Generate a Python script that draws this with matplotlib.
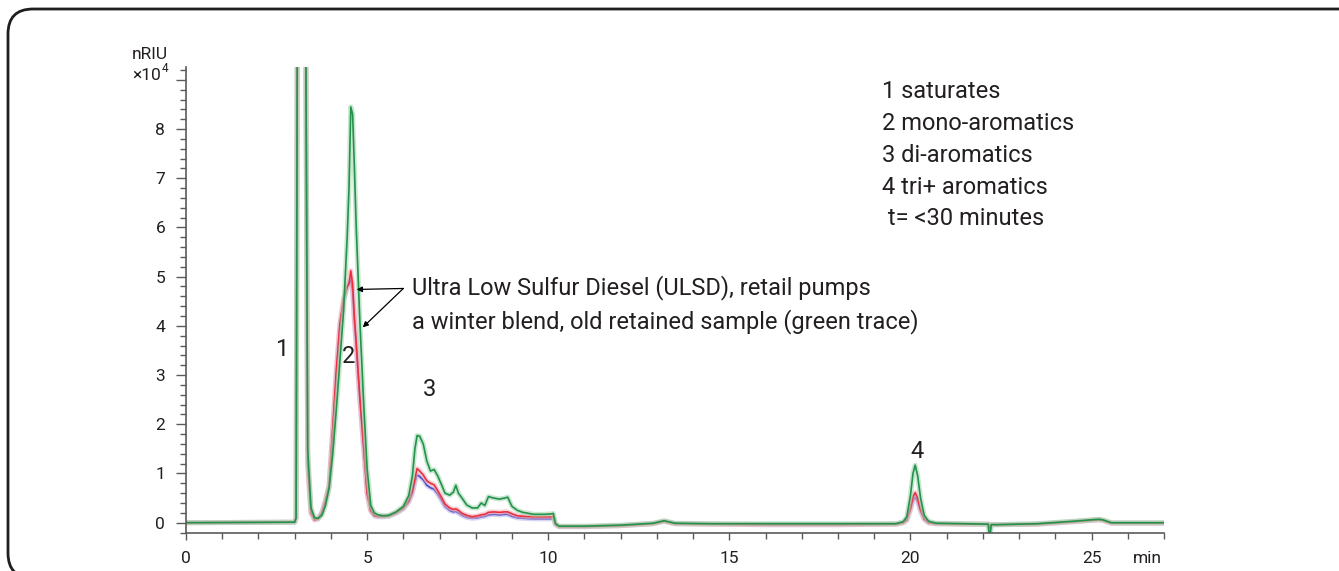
import matplotlib
matplotlib.use("Agg")
import matplotlib.pyplot as plt
from matplotlib.patches import FancyBboxPatch
from matplotlib.ticker import MultipleLocator

plt.rcParams['font.family'] = ['Roboto', 'DejaVu Sans']

# retention time (min) shared by the three runs
rt = [0.0, 3.0, 3.04, 3.08, 3.19, 3.31, 3.36, 3.45, 3.55, 3.65, 3.75, 3.85,
      3.95, 4.05, 4.15, 4.25, 4.35, 4.45, 4.5, 4.55, 4.6, 4.65, 4.7, 4.8,
      4.9, 5.0, 5.1, 5.2, 5.3, 5.45, 5.6, 5.8, 6.0, 6.15, 6.25, 6.32, 6.38,
      6.45, 6.55, 6.65, 6.75, 6.85, 6.95, 7.05, 7.15, 7.28, 7.38, 7.45, 7.52,
      7.62, 7.75, 7.9, 8.05, 8.15, 8.25, 8.35, 8.5, 8.65, 8.8, 8.88, 9.0,
      9.15, 9.3, 9.6, 9.9, 10.1, 10.14, 10.2, 10.3, 11.0, 12.0, 12.9, 13.2,
      13.5, 14.5, 16.0, 18.0, 19.6, 19.8, 19.9, 20.0, 20.07, 20.13, 20.2,
      20.28, 20.38, 20.5, 20.7, 21.5, 22.1, 22.15, 22.17, 22.21, 22.23, 22.4,
      23.5, 24.5, 25.2, 25.3, 25.55, 26.3, 27.0]

# detector response, nRIU x 10^4
old_winter = [0.0, 0.01, 0.1, 12.0, 40.0, 9.5, 1.5, 0.3, 0.1, 0.09, 0.15, 0.35,
              0.7, 1.4, 2.3, 3.3, 4.3, 5.8, 6.8, 8.45, 8.3, 7.2, 6.0, 4.1,
              2.5, 1.1, 0.35, 0.2, 0.16, 0.14, 0.15, 0.22, 0.33, 0.55, 0.95, 1.5, 1.77,
              1.76, 1.6, 1.25, 1.05, 1.08, 0.95, 0.78, 0.6, 0.56, 0.62, 0.76, 0.6,
              0.5, 0.36, 0.3, 0.3, 0.4, 0.35, 0.53, 0.5, 0.48, 0.5, 0.52, 0.33,
              0.25, 0.21, 0.17, 0.17, 0.18, 0.19, -0.02, -0.07, -0.07, -0.05, -0.01, 0.04,
              -0.01, -0.02, -0.02, -0.02, -0.02, 0.02, 0.12, 0.55, 1.0, 1.17, 0.95,
              0.5, 0.15, 0.03, -0.01, -0.02, -0.03, -0.03, -0.22, -0.2, -0.04, -0.04,
              -0.02, 0.03, 0.07, 0.06, 0.0, 0.0, 0.0]

ulsd_a = [0.0, 0.01, 0.1, 12.0, 40.0, 9.5, 1.2, 0.2, 0.06, 0.08, 0.2, 0.45,
          0.75, 1.9, 3.1, 4.05, 4.55, 4.8, 4.85, 5.12, 4.85, 4.15, 3.65, 2.55,
          1.6, 0.6, 0.25, 0.15, 0.13, 0.13, 0.14, 0.2, 0.3, 0.45, 0.65, 0.9, 1.1,
          1.05, 0.97, 0.85, 0.8, 0.77, 0.65, 0.52, 0.38, 0.3, 0.27, 0.28, 0.25,
          0.19, 0.15, 0.12, 0.14, 0.16, 0.17, 0.21, 0.22, 0.21, 0.22, 0.22, 0.18,
          0.14, 0.13, 0.12, 0.12, 0.12, 0.13, -0.03, -0.08, -0.08, -0.06, -0.02, 0.03,
          -0.02, -0.03, -0.04, -0.04, -0.03, 0.0, 0.06, 0.3, 0.53, 0.61, 0.5,
          0.27, 0.08, 0.0, -0.02, -0.03, -0.03, -0.03, -0.1, -0.1, -0.04, -0.04,
          -0.03, 0.02, 0.06, 0.05, -0.01, -0.01, -0.01]

ulsd_b = [0.0, 0.01, 0.1, 12.0, 40.0, 9.5, 1.2, 0.2, 0.06, 0.08, 0.2, 0.45,
          0.75, 1.85, 3.0, 4.0, 4.5, 4.78, 4.88, 4.93, 4.7, 4.1, 3.6, 2.5,
          1.55, 0.6, 0.24, 0.14, 0.12, 0.12, 0.13, 0.19, 0.28, 0.42, 0.6, 0.82, 0.97,
          0.94, 0.87, 0.76, 0.71, 0.68, 0.58, 0.46, 0.33, 0.25, 0.22, 0.23, 0.2,
          0.15, 0.11, 0.09, 0.1, 0.12, 0.13, 0.16, 0.17, 0.16, 0.17, 0.17, 0.13,
          0.1, 0.09, 0.08, 0.08, 0.08, 0.09, -0.03, -0.08, -0.08, -0.06, -0.02, 0.03,
          -0.02, -0.03, -0.04, -0.04, -0.03, 0.0, 0.05, 0.26, 0.45, 0.52, 0.43,
          0.23, 0.07, 0.0, -0.02, -0.03, -0.03, -0.03, -0.1, -0.1, -0.04, -0.04,
          -0.03, 0.02, 0.06, 0.05, -0.01, -0.01, -0.01]

peak_ids = ['1', '2', '3', '4']
peak_x = [2.65, 4.49, 6.72, 20.18]
peak_y = [3.51, 3.37, 2.70, 1.44]

legend_lines = ['1 saturates', '2 mono-aromatics', '3 di-aromatics',
                '4 tri+ aromatics', ' t= <30 minutes']

ink = '#231f20'
axis_grey = '#5a5a5a'
big = 17
small = 12.5

fig = plt.figure(figsize=(13.39, 5.71), dpi=100)

# rounded frame around the whole panel, running off the right and bottom edges
frame = FancyBboxPatch((0.08, -0.07), 13.60, 5.69,
                       boxstyle='round,pad=0,rounding_size=0.25',
                       transform=fig.dpi_scale_trans, fill=False,
                       edgecolor='#1e1e1e', linewidth=2.0)
fig.patches.append(frame)

ax = fig.add_axes([0.1389, 0.0665, 0.7304, 0.8161])

# soft halo under each trace, then the trace itself
for y, core, halo in [(ulsd_b, '#4a4ac8', '#b8b8ec'),
                      (ulsd_a, '#ec2f3f', '#f6b0b6'),
                      (old_winter, '#23924c', '#a6d8b2')]:
    ax.plot(rt, y, color=halo, lw=3.6, alpha=0.6, solid_joinstyle='round')
    ax.plot(rt, y, color=core, lw=1.2, solid_joinstyle='round')

ax.set_xlim(0, 27)
ax.set_ylim(-0.21, 9.26)

for side in ['top', 'right']:
    ax.spines[side].set_visible(False)
for side in ['left', 'bottom']:
    ax.spines[side].set_color(axis_grey)
    ax.spines[side].set_linewidth(1.2)

ax.set_xticks([0, 5, 10, 15, 20, 25])
ax.xaxis.set_minor_locator(MultipleLocator(1))
ax.set_yticks(range(10))
ax.set_yticklabels([str(i) for i in range(9)] + [''])
ax.yaxis.set_minor_locator(MultipleLocator(0.2))

ax.tick_params(axis='x', which='major', length=5, width=1, color=axis_grey,
               labelsize=small, labelcolor=ink, pad=8)
ax.tick_params(axis='x', which='minor', length=4, width=1, color=axis_grey)
ax.tick_params(axis='y', which='major', length=7, width=1, color=axis_grey,
               labelsize=small, labelcolor=ink, pad=8)
ax.tick_params(axis='y', which='minor', length=4, width=1, color=axis_grey)

ax.text(26.55, -0.054, 'min', transform=ax.get_xaxis_transform(),
        ha='center', va='center', fontsize=small, color=ink)

# unit label above the y axis
fig.text(0.1255, 0.9045, 'nRIU', ha='right', va='center', fontsize=small, color=ink)
fig.text(0.1200, 0.8680, '\u00d710', ha='right', va='center', fontsize=small, color=ink)
fig.text(0.1206, 0.8800, '4', ha='left', va='center', fontsize=8.5, color=ink)

for label, x, y in zip(peak_ids, peak_x, peak_y):
    ax.text(x, y, label, ha='center', va='center', fontsize=big, color=ink)

ax.text(6.24, 4.77, 'Ultra Low Sulfur Diesel (ULSD), retail pumps',
        ha='left', va='center', fontsize=big, color=ink)
ax.text(6.24, 4.08, 'a winter blend, old retained sample (green trace)',
        ha='left', va='center', fontsize=big, color=ink)
for tip in [(4.71, 4.74), (4.88, 3.97)]:
    ax.annotate('', xy=tip, xytext=(6.0, 4.76),
                arrowprops=dict(arrowstyle='-|>', color='black', lw=0.9,
                                mutation_scale=8, shrinkA=0, shrinkB=0))

for i, line in enumerate(legend_lines):
    fig.text(0.6587, 0.8389 - i * 0.0555, line, ha='left', va='center',
             fontsize=big, color=ink)

fig.savefig('out.png', dpi=100)
